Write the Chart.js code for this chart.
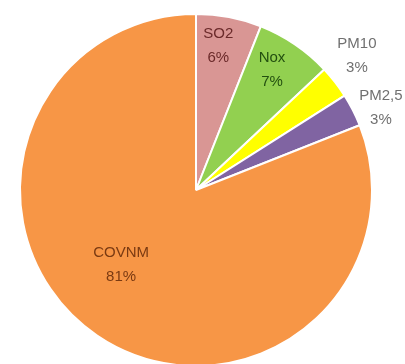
<!DOCTYPE html>
<html>
<head>
<meta charset="utf-8">
<script src="https://cdn.jsdelivr.net/npm/chart.js@4"></script>
<style>
  html, body { margin: 0; padding: 0; background: #fff; overflow: hidden; }
  #wrap { width: 405px; height: 372px; }
</style>
</head>
<body>
<div id="wrap"><canvas id="pie"></canvas></div>
<script>
const labels = ['SO2', 'Nox', 'PM10', 'PM2,5', 'COVNM'];
const values = [6, 7, 3, 3, 81];
const colors = ['#D99694', '#92D050', '#FFFF00', '#8064A2', '#F79646'];
const textColors = ['#6b2a2a', '#234f10', '#707070', '#707070', '#7a3a12'];
// label placement: fraction of radius from centre (>1 = outside), and a small turn in degrees
const labelDist = [0.83, 0.81, 1.19, 1.15, 0.6];
const labelTurn = [-2, -2, -2, 3, 11];

// draws "name / xx%" labels like the spreadsheet pie
const pieLabels = {
  id: 'pieLabels',
  afterDatasetsDraw(chart) {
    const ctx = chart.ctx;
    const meta = chart.getDatasetMeta(0);
    ctx.save();
    ctx.font = '15px "Liberation Sans", Arial, sans-serif';
    ctx.textAlign = 'center';
    ctx.textBaseline = 'middle';
    meta.data.forEach((arc, i) => {
      const mid = (arc.startAngle + arc.endAngle) / 2 + labelTurn[i] * Math.PI / 180;
      const r = arc.outerRadius * labelDist[i];
      const x = arc.x + Math.cos(mid) * r;
      const y = arc.y + Math.sin(mid) * r;
      ctx.fillStyle = textColors[i];
      ctx.fillText(labels[i], x, y - 12);
      ctx.fillText(values[i] + '%', x, y + 12);
    });
    ctx.restore();
  }
};

new Chart(document.getElementById('pie'), {
  type: 'pie',
  data: {
    labels: labels,
    datasets: [{
      data: values,
      backgroundColor: colors,
      borderColor: '#ffffff',
      borderWidth: 2,
    }],
  },
  options: {
    responsive: true,
    maintainAspectRatio: false,
    animation: false,
    layout: { padding: { left: 19, right: 32, top: 13, bottom: 5 } },
    plugins: {
      legend: { display: false },
      tooltip: { enabled: false },
    },
  },
  plugins: [pieLabels],
});
</script>
</body>
</html>
